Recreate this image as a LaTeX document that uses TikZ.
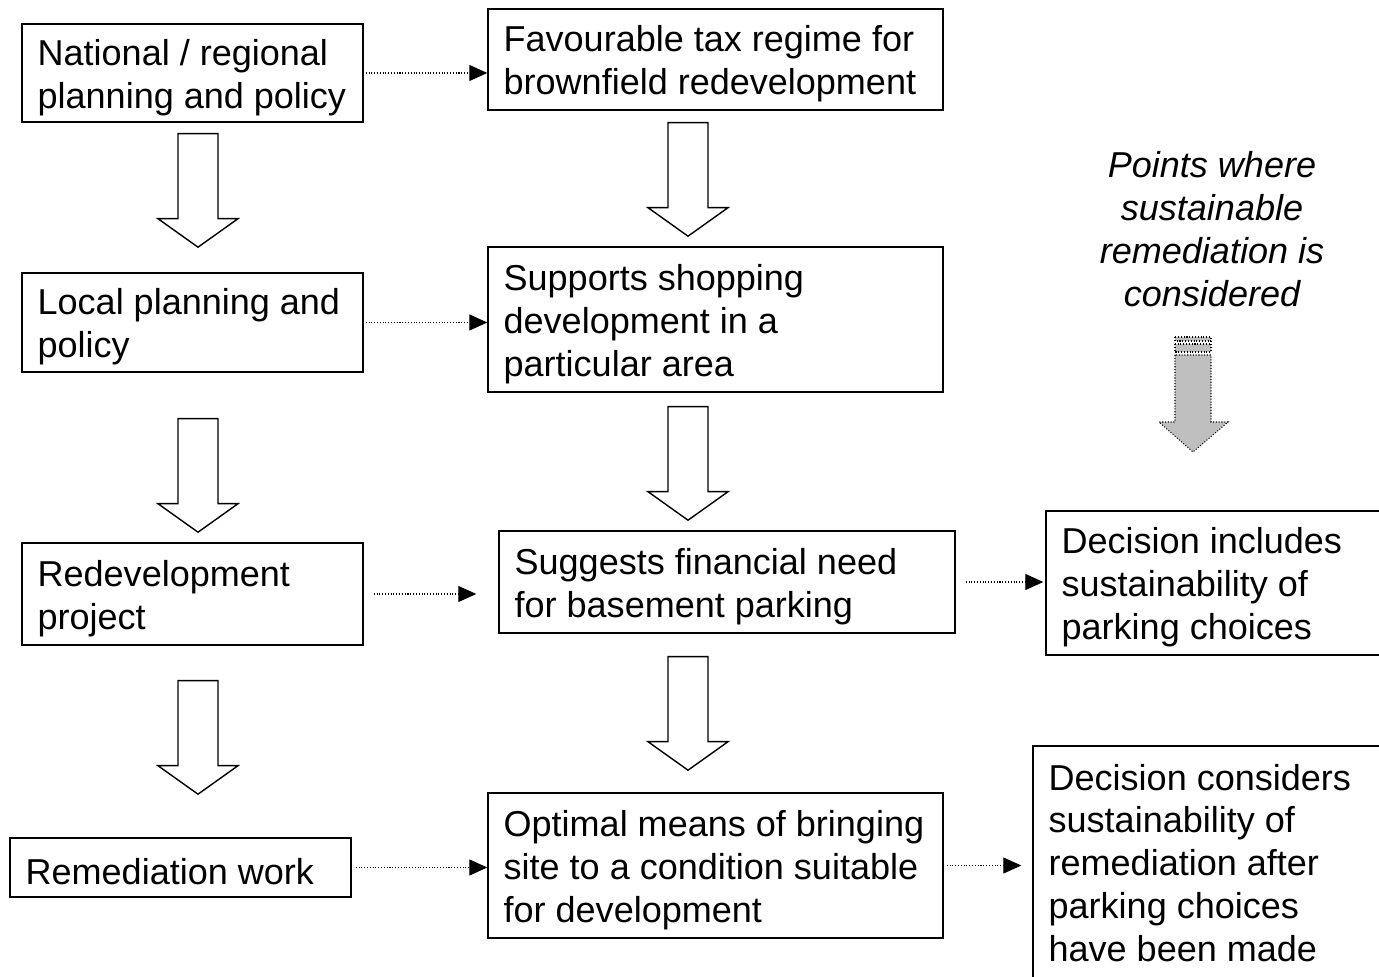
\documentclass[tikz,border=0pt]{standalone}
\usepackage{fontspec}
\setmainfont{Liberation Sans}
\usetikzlibrary{arrows.meta, calc}

\tikzset{
  box/.style={draw=black, line width=0.8pt, minimum width=6.82cm, inner sep=0pt},
  boxtext/.style={anchor=west, align=left, inner sep=0pt, yshift=-0.09cm, font=\fontsize{20.5pt}{24.4pt}\selectfont},
  flow/.style={densely dotted, line width=0.6pt, -{Triangle[length=0.36cm, width=0.32cm]}},
  hollow/.style={draw=black, fill=white, line width=0.8pt, line join=miter},
  pics/bigdown/.style={code={
    \draw[hollow] (-0.4,0) -- (-0.4,-1.7) -- (-0.8,-1.7) -- (0,-2.27) -- (0.8,-1.7) -- (0.4,-1.7) -- (0.4,0) -- cycle;
  }}
}

\begin{document}
\begin{tikzpicture}
  \useasboundingbox (0,0) rectangle (27.58,19.52);
  \clip (0,0) rectangle (27.58,19.52);

  % Left column
  \node[box, minimum height=1.96cm] (nat) at (3.85,18.06) {};
  \node[boxtext] (natT) at ([xshift=0.32cm]nat.west) {National / regional\\planning and policy};
  \node[box, minimum height=1.98cm] (loc) at (3.85,13.07) {};
  \node[boxtext] (locT) at ([xshift=0.32cm]loc.west) {Local planning and\\policy};
  \node[box, minimum height=2.04cm] (redev) at (3.85,7.64) {};
  \node[boxtext] (redevT) at ([xshift=0.32cm]redev.west) {Redevelopment\\project};
  \node[box, minimum height=1.18cm] (remed) at (3.61,2.17) {};
  \node[boxtext] (remedT) at ([xshift=0.32cm]remed.west) {Remediation work};

  % Middle column
  \node[box, minimum width=9.10cm, minimum height=2.02cm] (tax) at (14.31,18.33) {};
  \node[boxtext] (taxT) at ([xshift=0.32cm]tax.west) {Favourable tax regime for\\brownfield redevelopment};
  \node[box, minimum width=9.10cm, minimum height=2.90cm] (shop) at (14.31,13.13) {};
  \node[boxtext] (shopT) at ([xshift=0.32cm]shop.west) {Supports shopping\\development in a\\particular area};
  \node[box, minimum width=9.12cm, minimum height=2.04cm] (fin) at (14.54,7.88) {};
  \node[boxtext] (finT) at ([xshift=0.32cm]fin.west) {Suggests financial need\\for basement parking};
  \node[box, minimum width=9.10cm, minimum height=2.90cm] (opt) at (14.31,2.21) {};
  \node[boxtext] (optT) at ([xshift=0.32cm]opt.west) {Optimal means of bringing\\site to a condition suitable\\for development};

  % Right column
  \node[box, minimum width=7.08cm, minimum height=2.88cm] (park) at (24.46,7.86) {};
  \node[boxtext] (parkT) at ([xshift=0.32cm]park.west) {Decision includes\\sustainability of\\parking choices};
  \node[box, minimum width=7.34cm, minimum height=4.88cm] (sust) at (24.33,2.16) {};
  \node[boxtext] (sustT) at ([xshift=0.32cm, yshift=0.19cm]sust.west) {Decision considers\\sustainability of\\remediation after\\parking choices\\have been made};
  \node[align=center, inner sep=0pt, font=\fontsize{20.5pt}{24.4pt}\selectfont\itshape] (points) at (24.24,14.94) {Points where\\sustainable\\remediation is\\considered};

  % Grey marker arrow
  \begin{scope}[densely dotted, line width=0.6pt, fill=gray!50]
    \filldraw (23.50,12.78) rectangle (24.22,12.70);
    \filldraw (23.50,12.64) rectangle (24.22,12.48);
    \filldraw (23.50,12.42) -- (23.50,11.08) -- (23.18,11.08) -- (23.86,10.48) -- (24.56,11.08) -- (24.22,11.08) -- (24.22,12.42) -- cycle;
  \end{scope}

  % Block arrows down the columns
  \pic at ($(nat.south)+(0.11,-0.22)$) {bigdown};
  \pic at ($(loc.south)+(0.11,-0.92)$) {bigdown};
  \pic at ($(redev.south)+(0.11,-0.70)$) {bigdown};
  \pic at ($(tax.south)+(-0.55,-0.24)$) {bigdown};
  \pic at ($(shop.south)+(-0.55,-0.28)$) {bigdown};
  \pic at ($(fin.south)+(-0.78,-0.46)$) {bigdown};

  % Dotted links
  \draw[flow, shorten <=0.04cm] (nat.east) -- (nat.east -| tax.west);
  \draw[flow, shorten <=0.04cm] (loc.east) -- (loc.east -| shop.west);
  \draw[flow, shorten <=0.2cm, shorten >=0.44cm] (redev.east) -- (redev.east -| fin.west);
  \draw[flow, shorten <=0.2cm, shorten >=0.04cm] (fin.east) -- (fin.east -| park.west);
  \draw[flow, shorten <=0.08cm] (remed.east) -- (remed.east -| opt.west);
  \draw[flow, shorten <=0.06cm, shorten >=0.22cm] (opt.east) -- (opt.east -| sust.west);
\end{tikzpicture}
\end{document}
